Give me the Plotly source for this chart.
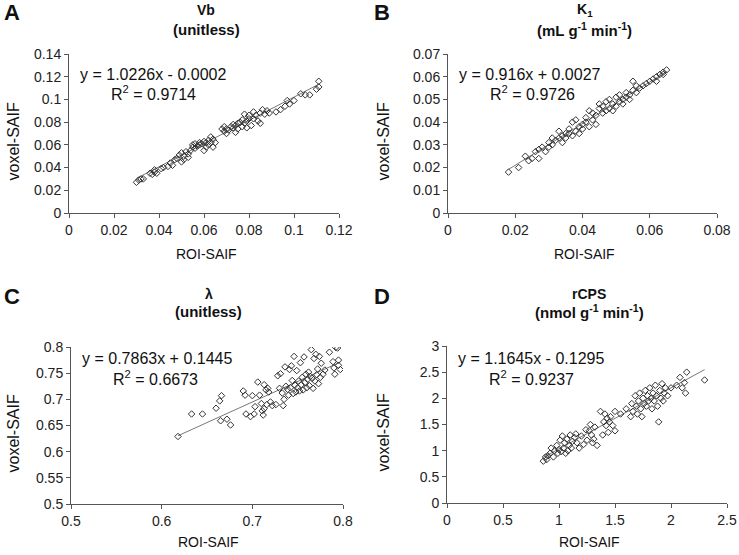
import plotly.graph_objects as go
from plotly.subplots import make_subplots

# Panel A: Vb (unitless)
vb_roi = [0.030, 0.031, 0.032, 0.033, 0.036, 0.037, 0.038, 0.038, 0.039, 0.041, 0.042, 0.044,
          0.045, 0.046, 0.047, 0.048, 0.049, 0.050, 0.050, 0.051, 0.051, 0.052, 0.053, 0.053,
          0.054, 0.055, 0.055, 0.056, 0.056, 0.057, 0.058, 0.058, 0.059, 0.060, 0.060, 0.061,
          0.061, 0.062, 0.062, 0.063, 0.063, 0.064, 0.064, 0.065, 0.068, 0.069, 0.069, 0.070,
          0.070, 0.071, 0.072, 0.073, 0.073, 0.074, 0.074, 0.075, 0.075, 0.076, 0.077, 0.077,
          0.078, 0.078, 0.079, 0.079, 0.080, 0.080, 0.081, 0.082, 0.082, 0.083, 0.084, 0.085,
          0.085, 0.086, 0.087, 0.088, 0.089, 0.092, 0.094, 0.096, 0.097, 0.098, 0.100, 0.103,
          0.105, 0.107, 0.110, 0.111, 0.111]
vb_voxel = [0.027, 0.029, 0.030, 0.030, 0.035, 0.034, 0.036, 0.038, 0.035, 0.039, 0.040, 0.041,
            0.044, 0.042, 0.047, 0.048, 0.051, 0.045, 0.053, 0.047, 0.050, 0.054, 0.049, 0.052,
            0.055, 0.058, 0.060, 0.057, 0.061, 0.059, 0.062, 0.060, 0.061, 0.055, 0.063, 0.058,
            0.062, 0.064, 0.060, 0.067, 0.062, 0.058, 0.065, 0.062, 0.074, 0.072, 0.076, 0.074,
            0.070, 0.073, 0.076, 0.075, 0.078, 0.071, 0.077, 0.079, 0.074, 0.080, 0.076, 0.082,
            0.087, 0.079, 0.081, 0.075, 0.086, 0.083, 0.077, 0.089, 0.083, 0.086, 0.081, 0.079,
            0.088, 0.091, 0.087, 0.090, 0.088, 0.089, 0.091, 0.094, 0.099, 0.096, 0.099, 0.105,
            0.104, 0.104, 0.109, 0.116, 0.111]

# Panel B: K1 (mL g-1 min-1)
k1_roi = [0.018, 0.021, 0.023, 0.024, 0.025, 0.026, 0.027, 0.027, 0.028, 0.029, 0.030, 0.030,
          0.031, 0.031, 0.032, 0.033, 0.033, 0.034, 0.034, 0.035, 0.035, 0.036, 0.036, 0.037,
          0.037, 0.038, 0.038, 0.039, 0.039, 0.040, 0.040, 0.041, 0.041, 0.042, 0.042, 0.043,
          0.043, 0.044, 0.044, 0.045, 0.045, 0.046, 0.046, 0.047, 0.047, 0.048, 0.048, 0.049,
          0.049, 0.050, 0.050, 0.051, 0.051, 0.052, 0.052, 0.053, 0.053, 0.054, 0.055, 0.055,
          0.056, 0.057, 0.058, 0.059, 0.060, 0.061, 0.062, 0.062, 0.063, 0.064, 0.065, 0.064,
          0.054, 0.056]
k1_voxel = [0.018, 0.020, 0.025, 0.023, 0.024, 0.027, 0.024, 0.028, 0.029, 0.027, 0.029, 0.031,
            0.033, 0.030, 0.032, 0.033, 0.036, 0.034, 0.031, 0.035, 0.033, 0.037, 0.035, 0.040,
            0.034, 0.036, 0.041, 0.038, 0.035, 0.039, 0.037, 0.042, 0.040, 0.045, 0.038, 0.041,
            0.044, 0.039, 0.043, 0.046, 0.048, 0.044, 0.047, 0.045, 0.049, 0.046, 0.050, 0.048,
            0.045, 0.051, 0.047, 0.052, 0.049, 0.048, 0.050, 0.053, 0.051, 0.052, 0.058, 0.054,
            0.053, 0.055, 0.056, 0.057, 0.058, 0.059, 0.060, 0.058, 0.061, 0.061, 0.063, 0.062,
            0.050, 0.056]

# Panel C: lambda (unitless)
lam_roi = [0.618, 0.633, 0.645, 0.660, 0.664, 0.666, 0.665, 0.672, 0.676, 0.690, 0.692, 0.693,
           0.698, 0.700, 0.702, 0.703, 0.706, 0.708, 0.710, 0.711, 0.712, 0.713, 0.713, 0.715,
           0.716, 0.717, 0.718, 0.720, 0.722, 0.726, 0.728, 0.730, 0.731, 0.733, 0.734, 0.735,
           0.736, 0.737, 0.739, 0.740, 0.741, 0.742, 0.743, 0.744, 0.745, 0.746, 0.747, 0.748,
           0.749, 0.750, 0.751, 0.752, 0.753, 0.754, 0.755, 0.756, 0.757, 0.758, 0.759, 0.760,
           0.761, 0.762, 0.763, 0.764, 0.765, 0.766, 0.767, 0.768, 0.769, 0.770, 0.771, 0.772,
           0.773, 0.774, 0.775, 0.776, 0.778, 0.780, 0.785, 0.789, 0.790, 0.791, 0.792, 0.794,
           0.795, 0.797, 0.795]
lam_voxel = [0.629, 0.672, 0.672, 0.683, 0.697, 0.707, 0.659, 0.662, 0.651, 0.716, 0.708, 0.672,
             0.667, 0.707, 0.672, 0.686, 0.733, 0.708, 0.692, 0.678, 0.670, 0.728, 0.682, 0.718,
             0.690, 0.721, 0.714, 0.695, 0.688, 0.690, 0.745, 0.721, 0.749, 0.712, 0.688, 0.700,
             0.762, 0.725, 0.719, 0.708, 0.757, 0.722, 0.764, 0.736, 0.711, 0.782, 0.727, 0.714,
             0.755, 0.722, 0.735, 0.716, 0.770, 0.728, 0.742, 0.718, 0.781, 0.732, 0.748, 0.722,
             0.738, 0.752, 0.726, 0.744, 0.795, 0.740, 0.721, 0.778, 0.735, 0.786, 0.747, 0.758,
             0.730, 0.782, 0.742, 0.769, 0.748, 0.756, 0.790, 0.772, 0.760, 0.748, 0.799, 0.798,
             0.765, 0.757, 0.775]

# Panel D: rCPS (nmol g-1 min-1)
rcps_roi = [0.86, 0.88, 0.89, 0.90, 0.92, 0.93, 0.95, 0.96, 0.98, 0.99, 1.00, 1.01, 1.02, 1.03,
            1.04, 1.05, 1.06, 1.07, 1.08, 1.09, 1.10, 1.11, 1.12, 1.14, 1.15, 1.16, 1.18, 1.20,
            1.22, 1.24, 1.25, 1.27, 1.28, 1.29, 1.30, 1.31, 1.32, 1.34, 1.37, 1.39, 1.40, 1.41,
            1.42, 1.43, 1.44, 1.45, 1.46, 1.48, 1.50, 1.50, 1.55, 1.60, 1.64, 1.65, 1.66, 1.68,
            1.69, 1.70, 1.71, 1.72, 1.73, 1.74, 1.75, 1.76, 1.77, 1.78, 1.79, 1.80, 1.81, 1.82,
            1.83, 1.84, 1.85, 1.86, 1.87, 1.88, 1.89, 1.90, 1.91, 1.92, 1.93, 1.94, 1.95, 1.97,
            2.00, 2.05, 2.08, 2.10, 2.12, 2.13, 2.14, 2.30]
rcps_voxel = [0.80, 0.88, 0.83, 0.90, 0.95, 1.05, 0.88, 1.00, 1.10, 0.95, 1.02, 1.20, 0.98, 1.28,
              1.05, 1.15, 0.95, 1.22, 1.00, 1.10, 1.30, 1.05, 1.18, 1.25, 1.32, 1.15, 1.05, 1.28,
              1.12, 1.40, 1.20, 1.38, 1.50, 1.30, 1.15, 1.22, 1.45, 1.10, 1.75, 1.30, 1.55, 1.70,
              1.48, 1.62, 1.35, 1.55, 1.65, 1.48, 1.38, 1.75, 1.70, 1.80, 1.65, 1.90, 1.75, 2.05,
              1.85, 1.70, 1.95, 2.10, 1.80, 1.65, 2.00, 1.90, 2.15, 1.85, 2.05, 1.95, 2.20, 2.00,
              1.80, 2.10, 1.95, 2.25, 2.05, 1.85, 1.55, 2.15, 2.00, 2.28, 1.95, 2.10, 2.20, 2.05,
              2.20, 2.25, 2.40, 2.20, 2.30, 2.10, 2.50, 2.35]

# linear fits as printed on the figure (slope, intercept, R2)
fits = [(1.0226, -0.0002, "0.9714"), (0.916, 0.0027, "0.9726"),
        (0.7863, 0.1445, "0.6673"), (1.1645, -0.1295, "0.9237")]
eq_texts = ["y = 1.0226x - 0.0002", "y = 0.916x + 0.0027",
            "y = 0.7863x + 0.1445", "y = 1.1645x - 0.1295"]

panel_letters = ["A", "B", "C", "D"]
titles = ["Vb", "K<sub>1</sub>", "λ", "rCPS"]
units = ["(unitless)", "(mL g<sup>-1</sup> min<sup>-1</sup>)", "(unitless)",
         "(nmol g<sup>-1</sup> min<sup>-1</sup>)"]

x_ticks = [[0, 0.02, 0.04, 0.06, 0.08, 0.1, 0.12],
           [0, 0.02, 0.04, 0.06, 0.08],
           [0.5, 0.6, 0.7, 0.8],
           [0, 0.5, 1, 1.5, 2, 2.5]]
y_ticks = [[0, 0.02, 0.04, 0.06, 0.08, 0.1, 0.12, 0.14],
           [0, 0.01, 0.02, 0.03, 0.04, 0.05, 0.06, 0.07],
           [0.5, 0.55, 0.6, 0.65, 0.7, 0.75, 0.8],
           [0, 0.5, 1, 1.5, 2, 2.5, 3]]

data = [(vb_roi, vb_voxel), (k1_roi, k1_voxel), (lam_roi, lam_voxel), (rcps_roi, rcps_voxel)]

W, H = 739, 555
FONT = "Arial, Liberation Sans, Helvetica, sans-serif"

# plot areas in pixels (left, right, top, bottom)
boxes = [(69, 339, 54, 213), (448, 717, 54, 213), (71, 343, 347, 504), (447, 727, 346, 503)]

fig = make_subplots(rows=2, cols=2)

for i, (xs, ys) in enumerate(data):
    r, c = i // 2 + 1, i % 2 + 1
    slope, icpt, r2 = fits[i]
    x0, x1 = min(xs), max(xs)
    fig.add_trace(go.Scatter(x=[x0, x1], y=[slope * x0 + icpt, slope * x1 + icpt],
                             mode="lines", line=dict(color="#777", width=1),
                             showlegend=False, hoverinfo="skip"), row=r, col=c)
    fig.add_trace(go.Scatter(x=xs, y=ys, mode="markers",
                             marker=dict(symbol="diamond-open", size=5,
                                         color="#333", line=dict(width=1)),
                             showlegend=False), row=r, col=c)

    left, right, top, bottom = boxes[i]
    xd = [left / W, right / W]
    yd = [1 - bottom / H, 1 - top / H]
    axis_style = dict(showgrid=False, zeroline=False, showline=True, linecolor="#555",
                      linewidth=1, ticks="outside", ticklen=4, tickcolor="#555",
                      automargin=False,
                      tickfont=dict(family=FONT, size=14, color="#222"))
    fig.update_xaxes(domain=xd, range=[x_ticks[i][0], x_ticks[i][-1]],
                     tickvals=x_ticks[i], ticktext=[f"{v:g}" for v in x_ticks[i]],
                     row=r, col=c, **axis_style)
    fig.update_yaxes(domain=yd, range=[y_ticks[i][0], y_ticks[i][-1]],
                     tickvals=y_ticks[i], ticktext=[f"{v:g}" for v in y_ticks[i]],
                     row=r, col=c, **axis_style)

    cx = (left + right) / 2 + 2
    top_row = i < 2
    t1 = 10 if top_row else 294
    t2 = 29 if top_row else 311
    ann = [
        (panel_letters[i], (2 if c == 1 else 372), (13 if top_row else 296), 22, True, "left"),
        (titles[i], cx, t1, 14, True, "center"),
        (units[i], cx, t2, 15, True, "center"),
        (eq_texts[i], left + 9, (75 if top_row else 358), 16, False, "left"),
        (f"R<sup>2</sup> = {r2}", left + 40, (93 if top_row else 378), 16, False, "left"),
        ("ROI-SAIF", cx, (254 if top_row else 542), 14, False, "center"),
    ]
    for text, px, py, size, bold, anchor in ann:
        fig.add_annotation(x=px / W, y=1 - py / H, xref="paper", yref="paper",
                           text=f"<b>{text}</b>" if bold else text, showarrow=False,
                           xanchor=anchor, yanchor="middle",
                           font=dict(family=FONT, size=size, color="#111"))
    fig.add_annotation(x=(13 if c == 1 else 383) / W, y=1 - ((top + bottom) / 2 + 8) / H,
                       xref="paper", yref="paper", text="voxel-SAIF", textangle=-90,
                       showarrow=False, xanchor="center", yanchor="middle",
                       font=dict(family=FONT, size=16, color="#111"))

fig.update_layout(width=W, height=H, margin=dict(l=0, r=0, t=0, b=0),
                  plot_bgcolor="white", paper_bgcolor="white",
                  font=dict(family=FONT))

# the page's default body margin would push the 739x555 figure off the window
fig.write_html("out.html", config={"displayModeBar": False},
               post_script="document.body.style.margin = '0';")
